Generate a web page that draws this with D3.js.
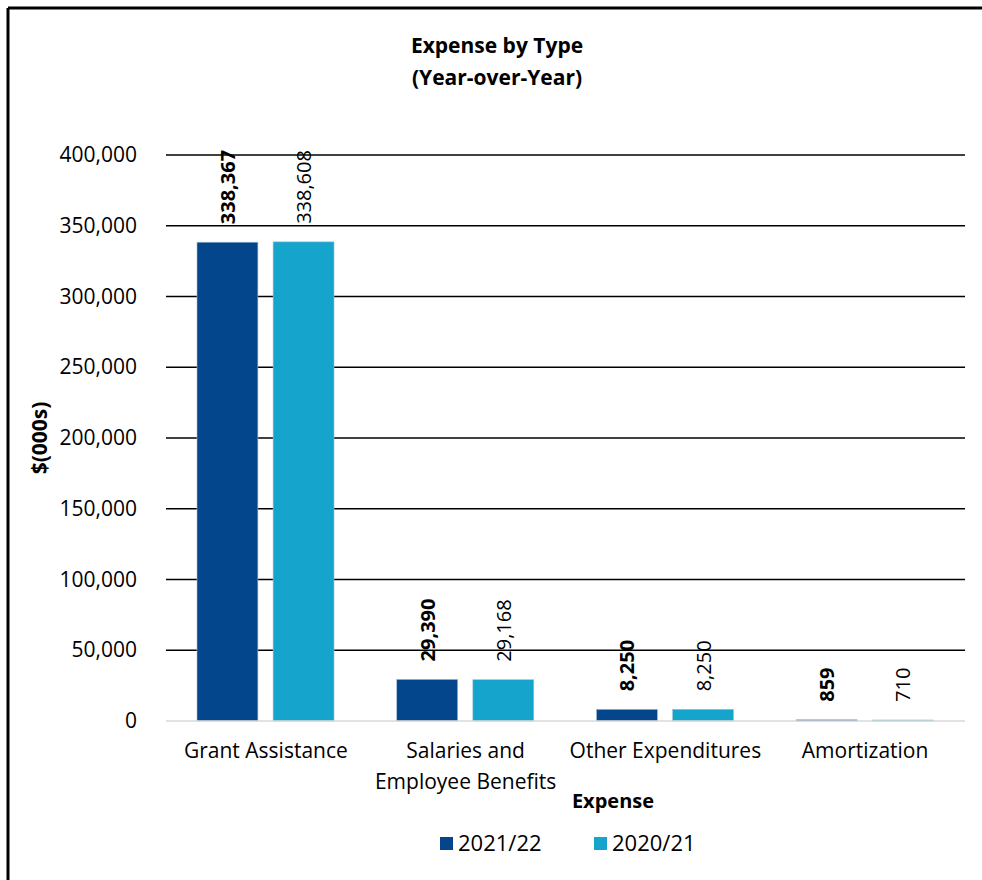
<!DOCTYPE html>
<html>
<head>
<meta charset="utf-8">
<script src="https://cdn.jsdelivr.net/npm/d3@7"></script>
<style>
    body { margin: 0; background: #fff; }
    svg { display: block; }
    text { font-family: "Open Sans", "Noto Sans", sans-serif; fill: #000; }
</style>
</head>
<body>
<div id="chart"></div>
<script>
// chart data
var categories = ["Grant Assistance", "Salaries and|Employee Benefits", "Other Expenditures", "Amortization"];
var seriesNames = ["2021/22", "2020/21"];
var values2122 = [338367, 29390, 8250, 859];
var values2021 = [338608, 29168, 8250, 710];
var yTicks = [0, 50000, 100000, 150000, 200000, 250000, 300000, 350000, 400000];

var colors = ["#03468b", "#15a4cb"];
var W = 982, H = 880;
var plotLeft = 166, plotRight = 965, plotTop = 155, plotBottom = 721;
var fs = "20px";

var svg = d3.select("#chart").append("svg")
    .attr("width", W)
    .attr("height", H);

// frame (only top and left edges show)
svg.append("line").attr("x1", 8).attr("x2", W).attr("y1", 8).attr("y2", 8)
    .attr("stroke", "#000").attr("stroke-width", 3);
svg.append("line").attr("x1", 8).attr("x2", 8).attr("y1", 8).attr("y2", H)
    .attr("stroke", "#000").attr("stroke-width", 3);

var x0 = d3.scaleBand().domain(d3.range(categories.length)).range([plotLeft, plotRight]);
var x1 = d3.scaleBand().domain([0, 1]).range([31, 168]).paddingInner(0.2);
var y = d3.scaleLinear().domain([0, 400000]).range([plotBottom, plotTop]);

// gridlines
svg.append("g").selectAll("line")
    .data(yTicks.filter(function(d) { return d > 0; }))
    .enter().append("line")
    .attr("x1", plotLeft).attr("x2", plotRight)
    .attr("y1", function(d) { return y(d); })
    .attr("y2", function(d) { return y(d); })
    .attr("stroke", "#000").attr("stroke-width", 1.5);

// y axis labels
var yAxis = d3.axisLeft(y).tickValues(yTicks).tickFormat(d3.format(",")).tickSize(0).tickPadding(29);
var ya = svg.append("g").attr("transform", `translate(${plotLeft},0)`).call(yAxis);
ya.select(".domain").remove();
ya.selectAll("text").style("font-family", "\"Open Sans\", sans-serif").style("font-size", "21px").attr("fill", "#000");

// bars
var seriesData = [values2122, values2021];
seriesData.forEach(function(vals, s) {
    svg.append("g").selectAll("rect")
        .data(vals)
        .enter().append("rect")
        .attr("x", function(d, i) { return x0(i) + x1(s); })
        .attr("y", function(d) { return y(d); })
        .attr("width", x1.bandwidth())
        .attr("height", function(d) { return y(0) - y(d); })
        .attr("fill", colors[s])
        .attr("stroke", "#9fbbd6").attr("stroke-width", 0.6);

    svg.append("g").selectAll("text")
        .data(vals)
        .enter().append("text")
        .attr("transform", function(d, i) {
            var cx = x0(i) + x1(s) + x1.bandwidth() / 2;
            return `translate(${cx},${y(d) - 18}) rotate(-90)`;
        })
        .attr("dominant-baseline", "central")
        .style("font-size", fs)
        .style("font-weight", s === 0 ? "bold" : "normal")
        .text(function(d) { return d3.format(",")(d); });
});

// zero line
svg.append("line").attr("x1", plotLeft).attr("x2", plotRight)
    .attr("y1", y(0)).attr("y2", y(0))
    .attr("stroke", "#d9d9d9").attr("stroke-width", 1.5);

// category labels
categories.forEach(function(c, i) {
    var cx = x0(i) + x0.bandwidth() / 2;
    var t = svg.append("text")
        .attr("x", cx)
        .attr("y", 758)
        .attr("text-anchor", "middle")
        .style("font-size", "21px");
    c.split("|").forEach(function(line, j) {
        t.append("tspan").attr("x", cx).attr("dy", j === 0 ? 0 : 31).text(line);
    });
});

// titles
svg.append("text").attr("x", 497).attr("y", 53).attr("text-anchor", "middle")
    .style("font-size", "21px").style("font-weight", "bold").text("Expense by Type");
svg.append("text").attr("x", 497).attr("y", 85).attr("text-anchor", "middle")
    .style("font-size", "21px").style("font-weight", "bold").text("(Year-over-Year)");
svg.append("text").attr("transform", "translate(47,438) rotate(-90)").attr("text-anchor", "middle")
    .style("font-size", "21px").style("font-weight", "bold").text("$(000s)");
svg.append("text").attr("x", 613).attr("y", 808).attr("text-anchor", "middle")
    .style("font-size", fs).style("font-weight", "bold").text("Expense");

// legend
var legendX = [440, 594];
seriesNames.forEach(function(n, s) {
    var g = svg.append("g").attr("transform", `translate(${legendX[s]},837)`);
    g.append("rect").attr("width", 13).attr("height", 13).attr("fill", colors[s]);
    g.append("text").attr("x", 18).attr("y", 14).style("font-size", "22px").text(n);
});
</script>
</body>
</html>
